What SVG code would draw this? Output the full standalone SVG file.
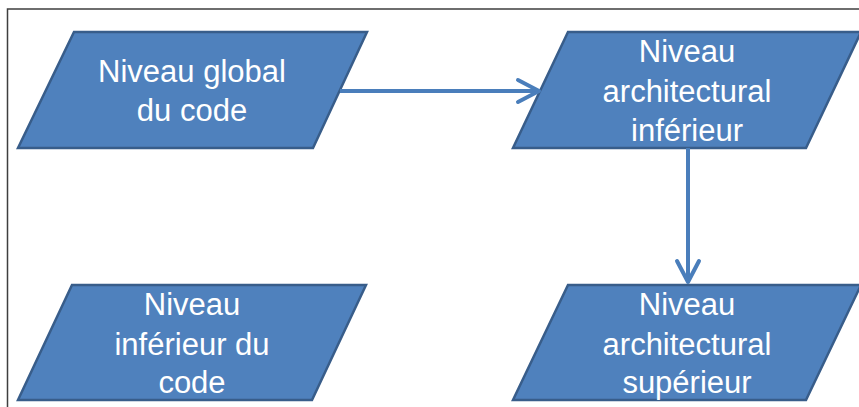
<svg xmlns="http://www.w3.org/2000/svg" width="859" height="407" viewBox="0 0 859 407">
<style>
.frame{fill:none;stroke:#3f3f3f;stroke-width:1.5}
.node{fill:#4f81bd;stroke:#385d8a;stroke-width:2.5;stroke-linejoin:miter}
.lbl{font-family:"Liberation Sans",Arial,sans-serif;font-size:31px;fill:#ffffff;text-anchor:middle}
.conn{fill:none;stroke:#4a7ebb;stroke-width:4}
.head{fill:none;stroke:#4a7ebb;stroke-width:4;stroke-linecap:round;stroke-linejoin:round}
</style>
<rect width="859" height="407" fill="#ffffff"/>
<path class="frame" d="M7.5,407 V9 H859"/>
<g id="n1">
<polygon class="node" points="74,32 367,32 313,148 18,148"/>
<text class="lbl" x="192" y="82">Niveau global</text>
<text class="lbl" x="192" y="121">du code</text>
</g>
<g id="n2">
<polygon class="node" points="568,32 861,32 806,148 513,148"/>
<text class="lbl" x="687" y="62">Niveau</text>
<text class="lbl" x="687" y="102">architectural</text>
<text class="lbl" x="687" y="141">inférieur</text>
</g>
<g id="n3">
<polygon class="node" points="72,285 366,285 312,400 18,400"/>
<text class="lbl" x="192" y="315">Niveau</text>
<text class="lbl" x="192" y="355">inférieur du</text>
<text class="lbl" x="192" y="393">code</text>
</g>
<g id="n4">
<polygon class="node" points="568,285 861,285 806,400 513,400"/>
<text class="lbl" x="687" y="315">Niveau</text>
<text class="lbl" x="687" y="355">architectural</text>
<text class="lbl" x="687" y="393">supérieur</text>
</g>
<g id="connectors">
<line class="conn" x1="340" y1="91" x2="538" y2="91"/>
<polyline class="head" points="518,80 539,91 518,102"/>
<line class="conn" x1="688" y1="148" x2="688" y2="281"/>
<polyline class="head" points="677,261 688,282 699,261"/>
</g>
</svg>
